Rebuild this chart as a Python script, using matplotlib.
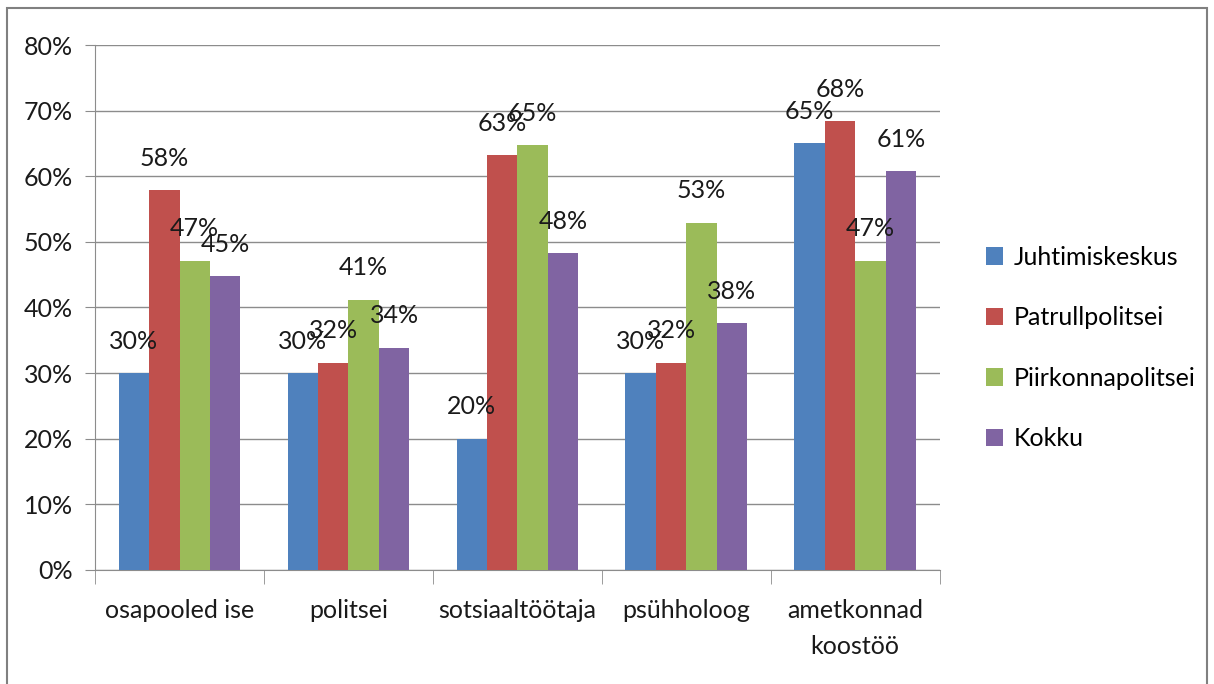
import numpy as np
from matplotlib import pyplot as plt
from matplotlib.patches import Rectangle

plt.rcParams['font.family'] = ['Liberation Sans Narrow', 'Lato', 'DejaVu Sans']

categories = ["osapooled ise", "politsei", "sotsiaaltöötaja", "psühholoog", "ametkonnad\nkoostöö"]
series_names = ["Juhtimiskeskus", "Patrullpolitsei", "Piirkonnapolitsei", "Kokku"]
juhtimiskeskus = [30.0, 30.0, 20.0, 30.0, 65.0]
patrullpolitsei = [57.9, 31.6, 63.2, 31.6, 68.4]
piirkonnapolitsei = [47.1, 41.2, 64.7, 52.9, 47.1]
kokku = [44.8, 33.9, 48.3, 37.6, 60.8]
y_ticks = [0, 10, 20, 30, 40, 50, 60, 70, 80]

colors = ["#4F81BD", "#C0504D", "#9BBB59", "#8064A2"]
all_series = [juhtimiskeskus, patrullpolitsei, piirkonnapolitsei, kokku]

fig = plt.figure(figsize=(12.14, 6.84), dpi=100)
ax = fig.add_axes([0.0783, 0.1667, 0.6957, 0.7675])

x = np.arange(len(categories))
width = 0.18
grid_col = "#8C8C8C"
txt_col = "#1a1a1a"
fs = 18

for i, (vals, name, col) in enumerate(zip(all_series, series_names, colors)):
    pos = x + (i - 1.5) * width
    ax.bar(pos, vals, width=width, color=col, label=name, zorder=3)
    for px, v in zip(pos, vals):
        ax.annotate(f"{round(v)}%", xy=(px, v), xytext=(0, 23), textcoords="offset points",
                    ha="center", va="center", fontsize=fs, color=txt_col, zorder=4)

ax.set_xlim(-0.5, len(categories) - 0.5)
ax.set_ylim(0, 80)
ax.set_yticks(y_ticks)
ax.set_yticklabels([f"{t}%" for t in y_ticks], fontsize=fs, color=txt_col)
ax.yaxis.grid(True, color=grid_col, linewidth=1, zorder=0)

ax.set_xticks(x)
ax.set_xticklabels(categories, fontsize=fs, color=txt_col, linespacing=1.7)
ax.set_xticks(np.arange(len(categories) + 1) - 0.5, minor=True)
ax.tick_params(axis="x", which="major", length=0, pad=21)
ax.tick_params(axis="x", which="minor", length=10, color=grid_col, direction="out")
ax.tick_params(axis="y", length=7, color=grid_col, direction="out", pad=9)

for s in ["top", "right"]:
    ax.spines[s].set_visible(False)
for s in ["left", "bottom"]:
    ax.spines[s].set_color(grid_col)

leg = ax.legend(loc="center left", bbox_to_anchor=(1.028, 0.423), frameon=False, fontsize=fs,
                handlelength=0.7, handleheight=0.7, handletextpad=0.4, labelspacing=1.5)

fig.patches.append(Rectangle((0.006, -0.01), 0.988, 0.998, transform=fig.transFigure,
                             fill=False, edgecolor="#808080", linewidth=1.5))

fig.savefig("out.png", dpi=100)
